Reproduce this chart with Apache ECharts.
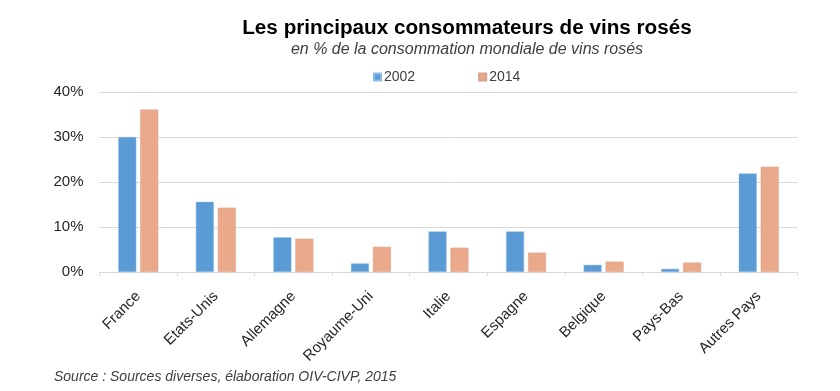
<!DOCTYPE html>
<html>
<head>
<meta charset="utf-8">
<script src="https://cdn.jsdelivr.net/npm/echarts@6/dist/echarts.min.js"></script>
<style>html,body{margin:0;padding:0;background:#fff}#c{width:840px;height:391px}</style>
</head>
<body>
<div id="c"></div>
<script>
var categories = ['France','Etats-Unis','Allemagne','Royaume-Uni','Italie','Espagne','Belgique','Pays-Bas','Autres Pays'];
var values2002 = [30.0, 15.6, 7.7, 1.9, 9.0, 9.0, 1.6, 0.7, 21.9];
var values2014 = [36.1, 14.3, 7.4, 5.6, 5.4, 4.3, 2.3, 2.1, 23.4];
var yTicks = [0, 10, 20, 30, 40];
var titleText = 'Les principaux consommateurs de vins rosés';
var subtitleText = 'en % de la consommation mondiale de vins rosés';
var sourceText = 'Source : Sources diverses, élaboration OIV-CIVP, 2015';

var font = '"Liberation Sans", Arial, sans-serif';
var chart = echarts.init(document.getElementById('c'));
chart.setOption({
  animation: false,
  textStyle: { fontFamily: font },
  title: [
    { text: titleText, left: 467, top: 18, textAlign: 'center', padding: 0,
      textStyle: { fontFamily: font, fontSize: 20.7, fontWeight: 'bold', color: '#000' } },
    { text: subtitleText, left: 467, top: 42, textAlign: 'center', padding: 0,
      textStyle: { fontFamily: font, fontSize: 16, fontStyle: 'italic', fontWeight: 'normal', color: '#404040' } },
    { text: sourceText, left: 54, top: 370, padding: 0,
      textStyle: { fontFamily: font, fontSize: 14, fontStyle: 'italic', fontWeight: 'normal', color: '#404040' } }
  ],
  legend: {
    left: 373, top: 70, padding: 0,
    itemWidth: 7, itemHeight: 7, itemGap: 63,
    icon: 'rect',
    textStyle: { fontFamily: font, fontSize: 14, color: '#404040', padding: [0,0,0,-2] },
    data: ['2002', '2014']
  },
  grid: { left: 99.5, right: 42.5, top: 92, bottom: 119, containLabel: false },
  xAxis: {
    type: 'category',
    data: categories,
    axisLine: { lineStyle: { color: '#d9d9d9', width: 1 } },
    axisTick: { show: true, length: 4, lineStyle: { color: '#d9d9d9' } },
    axisLabel: { rotate: 45, fontSize: 15, color: '#262626', margin: 22, fontFamily: font, interval: 0 }
  },
  yAxis: {
    type: 'value',
    min: yTicks[0], max: yTicks[yTicks.length - 1], interval: 10,
    axisLine: { show: false },
    axisTick: { show: false },
    splitLine: { lineStyle: { color: '#d9d9d9', width: 1 } },
    axisLabel: { formatter: '{value}%', fontSize: 15, color: '#262626', margin: 16, fontFamily: font }
  },
  series: [
    { name: '2002', type: 'bar', data: values2002, barWidth: 18, barGap: '22%',
      itemStyle: { color: '#5B9BD5', borderColor: '#8fbbe3', borderWidth: 0.5 } },
    { name: '2014', type: 'bar', data: values2014, barWidth: 18,
      itemStyle: { color: '#EBA98B', borderColor: '#d9a08a', borderWidth: 0.5 } }
  ]
});
</script>
</body>
</html>
